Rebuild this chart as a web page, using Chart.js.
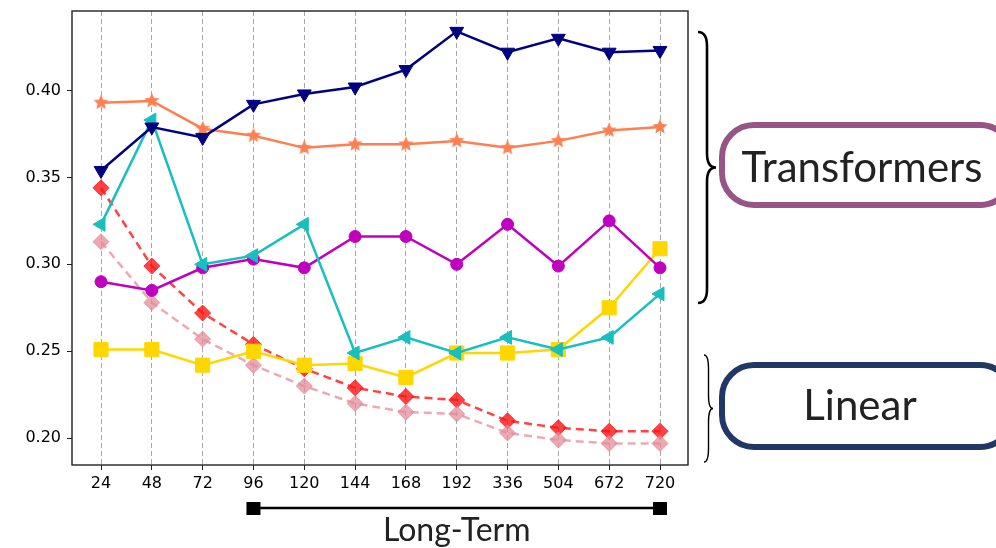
<!DOCTYPE html>
<html>
<head>
<meta charset="utf-8">
<script src="https://cdn.jsdelivr.net/npm/chart.js@4/dist/chart.umd.min.js"></script>
<style>
  html, body { margin: 0; padding: 0; background: #fff; }
  #wrap { width: 996px; height: 548px; position: relative; }
</style>
</head>
<body>
<div id="wrap"><canvas id="myChart" width="996" height="548"></canvas></div>
<script>
// horizons (x categories)
const horizons = ['24', '48', '72', '96', '120', '144', '168', '192', '336', '504', '672', '720'];
const yTicks = [0.20, 0.25, 0.30, 0.35, 0.40];

// series values
const navyDown = [0.354, 0.379, 0.373, 0.392, 0.398, 0.402, 0.412, 0.434, 0.422, 0.430, 0.422, 0.423];
const coralStar = [0.393, 0.394, 0.378, 0.374, 0.367, 0.369, 0.369, 0.371, 0.367, 0.371, 0.377, 0.379];
const cyanLeft = [0.323, 0.383, 0.300, 0.305, 0.323, 0.249, 0.258, 0.249, 0.258, 0.251, 0.258, 0.283];
const magentaCircle = [0.290, 0.285, 0.298, 0.303, 0.298, 0.316, 0.316, 0.300, 0.323, 0.299, 0.325, 0.298];
const yellowSquare = [0.251, 0.251, 0.242, 0.250, 0.242, 0.243, 0.235, 0.249, 0.249, 0.251, 0.275, 0.309];
const redDiamond = [0.344, 0.299, 0.272, 0.254, 0.240, 0.229, 0.224, 0.222, 0.210, 0.206, 0.204, 0.204];
const pinkDiamond = [0.313, 0.278, 0.257, 0.242, 0.230, 0.220, 0.215, 0.214, 0.203, 0.199, 0.197, 0.197];

// filled star marker
function makeStar(color) {
    const c = document.createElement('canvas');
    c.width = 18; c.height = 18;
    const g = c.getContext('2d');
    g.fillStyle = color;
    g.beginPath();
    for (let i = 0; i < 10; i++) {
        const r = i % 2 === 0 ? 8 : 3.6;
        const a = -Math.PI / 2 + i * Math.PI / 5;
        const px = 9 + r * Math.cos(a), py = 9 + r * Math.sin(a);
        if (i === 0) g.moveTo(px, py); else g.lineTo(px, py);
    }
    g.closePath();
    g.fill();
    return c;
}

function pts(arr) {
    return arr.map((v, i) => ({ x: i, y: v }));
}

function series(data, color, style, radius, extra) {
    return Object.assign({
        data: pts(data),
        borderColor: color,
        backgroundColor: color,
        pointBackgroundColor: color,
        pointBorderColor: color,
        pointStyle: style,
        pointRadius: radius,
        pointBorderWidth: 1,
        borderWidth: 2.5,
        tension: 0
    }, extra || {});
}

// annotations on the right and under the axis
function drawBrace(ctx, x, y1, y2, w, lw) {
    const mid = (y1 + y2) / 2;
    const q = Math.min(14, (y2 - y1) / 8);
    ctx.save();
    ctx.strokeStyle = '#000';
    ctx.lineWidth = lw;
    ctx.beginPath();
    ctx.moveTo(x, y1);
    ctx.quadraticCurveTo(x + w / 2, y1, x + w / 2, y1 + q);
    ctx.lineTo(x + w / 2, mid - q);
    ctx.quadraticCurveTo(x + w / 2, mid, x + w, mid);
    ctx.quadraticCurveTo(x + w / 2, mid, x + w / 2, mid + q);
    ctx.lineTo(x + w / 2, y2 - q);
    ctx.quadraticCurveTo(x + w / 2, y2, x, y2);
    ctx.stroke();
    ctx.restore();
}

function roundBox(ctx, x, y, w, h, r, color, lw) {
    ctx.save();
    ctx.strokeStyle = color;
    ctx.lineWidth = lw;
    ctx.beginPath();
    ctx.roundRect(x, y, w, h, r);
    ctx.stroke();
    ctx.restore();
}

const annotations = {
    id: 'annotations',
    afterDraw(chart) {
        const ctx = chart.ctx;
        const a = chart.chartArea;
        // frame
        ctx.save();
        ctx.strokeStyle = '#222';
        ctx.lineWidth = 1.4;
        ctx.strokeRect(a.left, a.top, a.right - a.left, a.bottom - a.top);
        ctx.restore();

        drawBrace(ctx, 698, 32, 303, 18, 2.6);
        drawBrace(ctx, 704, 355, 462, 9, 1.4);

        roundBox(ctx, 722, 125, 290, 80, 32, 'rgb(151,84,134)', 6);
        roundBox(ctx, 722, 365, 290, 82, 32, 'rgb(31,56,100)', 6);

        ctx.save();
        ctx.fillStyle = '#222';
        ctx.textAlign = 'center';
        ctx.textBaseline = 'alphabetic';
        ctx.font = '42px Lato';
        ctx.fillText('Transformers', 862, 182);
        ctx.fillText('Linear', 860, 420);

        // Long-Term bar from 96 to 720
        const xs = chart.scales.x;
        const x1 = xs.getPixelForValue(3), x2 = xs.getPixelForValue(11);
        ctx.strokeStyle = '#000';
        ctx.lineWidth = 2.5;
        ctx.beginPath();
        ctx.moveTo(x1, 508);
        ctx.lineTo(x2, 508);
        ctx.stroke();
        ctx.fillStyle = '#000';
        ctx.fillRect(x1 - 7, 502, 14, 13);
        ctx.fillRect(x2 - 7, 502, 14, 13);
        ctx.fillStyle = '#222';
        ctx.font = '32px Lato';
        ctx.fillText('Long-Term', (x1 + x2) / 2, 541);
        ctx.restore();
    }
};

const ctx = document.getElementById('myChart').getContext('2d');
const myChart = new Chart(ctx, {
    type: 'line',
    data: {
        datasets: [
            series(navyDown, '#000080', 'triangle', 8, { pointRotation: 180 }),
            series(coralStar, '#ff7f50', makeStar('#ff7f50'), 8),
            series(cyanLeft, '#17bfbf', 'triangle', 8, { pointRotation: 270 }),
            series(magentaCircle, '#bf00bf', 'circle', 6),
            series(yellowSquare, '#ffd700', 'rect', 10),
            series(pinkDiamond, 'rgba(228,140,155,0.75)', 'rectRot', 8, { borderDash: [8, 5] }),
            series(redDiamond, 'rgba(255,20,20,0.8)', 'rectRot', 8, { borderDash: [8, 5] })
        ]
    },
    options: {
        responsive: false,
        animation: false,
        layout: {
            padding: { left: 0, right: 308, top: 8, bottom: 53 }
        },
        plugins: {
            legend: { display: false },
            tooltip: { enabled: false }
        },
        scales: {
            x: {
                type: 'linear',
                min: -0.571,
                max: 11.551,
                afterBuildTicks: (scale) => {
                    scale.ticks = horizons.map((h, i) => ({ value: i }));
                },
                afterFit: (scale) => {
                    scale.height = 30;
                    scale.paddingLeft = 0;
                    scale.paddingRight = 0;
                },
                ticks: {
                    callback: (v) => horizons[v],
                    color: '#000',
                    font: { family: 'DejaVu Sans', size: 16 },
                    padding: 4,
                    maxRotation: 0,
                    autoSkip: false
                },
                grid: {
                    color: '#a8a8a8',
                    lineWidth: 1,
                    borderDash: [5, 3],
                    tickLength: 5,
                    tickColor: '#222',
                    tickBorderDash: [],
                    drawTicks: true
                },
                border: { display: false, dash: [5, 3] }
            },
            y: {
                min: 0.1846,
                max: 0.4457,
                afterBuildTicks: (scale) => {
                    scale.ticks = yTicks.map((v) => ({ value: v }));
                },
                afterFit: (scale) => {
                    scale.width = 72;
                    scale.paddingTop = 0;
                    scale.paddingBottom = 0;
                },
                ticks: {
                    callback: (v) => v.toFixed(2),
                    color: '#000',
                    font: { family: 'DejaVu Sans', size: 16 },
                    padding: 6
                },
                grid: {
                    drawOnChartArea: false,
                    tickLength: 5,
                    tickColor: '#222'
                },
                border: { display: false }
            }
        }
    },
    plugins: [annotations]
});
</script>
</body>
</html>
